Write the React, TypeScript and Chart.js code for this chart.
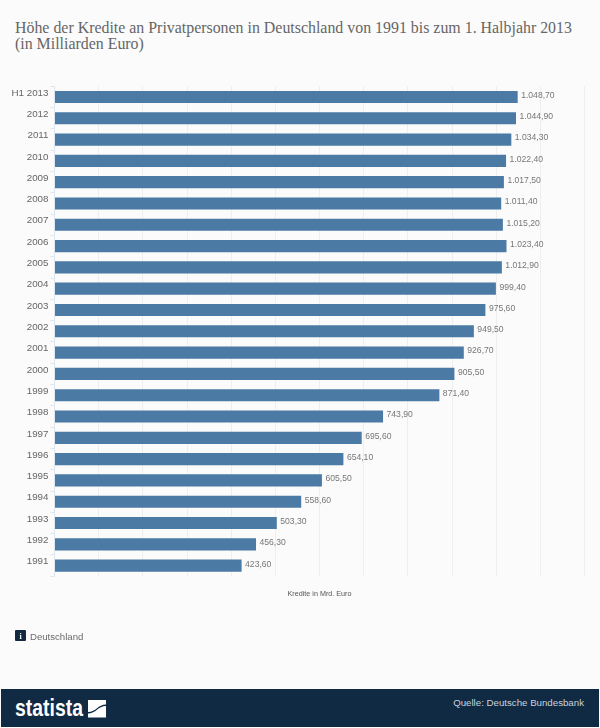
import React, { useEffect, useRef } from "react";
import { Chart, registerables } from "chart.js";

Chart.register(...registerables);

const categories = ["H1 2013","2012","2011","2010","2009","2008","2007","2006","2005","2004","2003","2002","2001","2000","1999","1998","1997","1996","1995","1994","1993","1992","1991"];
const credits = [1048.7,1044.9,1034.3,1022.4,1017.5,1011.4,1015.2,1023.4,1012.9,999.4,975.6,949.5,926.7,905.5,871.4,743.9,695.6,654.1,605.5,558.6,503.3,456.3,423.6];
const titleLines = ["Höhe der Kredite an Privatpersonen in Deutschland von 1991 bis zum 1. Halbjahr 2013", "(in Milliarden Euro)"];
const axisTitle = "Kredite in Mrd. Euro";
const regionLabel = "Deutschland";
const sourceLabel = "Quelle: Deutsche Bundesbank";

const SANS = '"Liberation Sans", Arial, sans-serif';

const valueLabels = {
  id: "valueLabels",
  afterDatasetsDraw(chart: any) {
    const ctx = chart.ctx;
    ctx.save();
    ctx.font = `8.6px ${SANS}`;
    ctx.fillStyle = "#777777";
    ctx.textAlign = "left";
    ctx.textBaseline = "middle";
    chart.getDatasetMeta(0).data.forEach((bar: any, i: number) => {
      const text = credits[i].toLocaleString("de-DE", { minimumFractionDigits: 2, maximumFractionDigits: 2 });
      ctx.fillText(text, bar.x + 3.5, bar.y - 1.5);
    });
    ctx.restore();
  },
};

export default function App() {
  const ref = useRef<HTMLCanvasElement>(null);
  useEffect(() => {
    document.body.style.margin = "0";
    document.body.style.background = "#fbfbfb";
    const chart = new Chart(ref.current!, {
      type: "bar",
      data: {
        labels: categories,
        datasets: [{
          data: credits,
          backgroundColor: "#4b7aa5",
          borderColor: "#4b7aa5",
          borderWidth: 0,
          barPercentage: 0.57,
          categoryPercentage: 1,
        }],
      },
      options: {
        indexAxis: "y",
        responsive: false,
        animation: false,
        layout: { padding: { left: 0, right: 15.5, top: 86.3, bottom: 130 } },
        plugins: { legend: { display: false }, tooltip: { enabled: false } },
        scales: {
          x: {
            min: 0,
            max: 1200,
            afterFit(scale: any) { scale.height = 21.7; },
            border: { display: false },
            grid: { color: "#eeeeee", lineWidth: 1, drawTicks: false },
            ticks: { display: false, stepSize: 100 },
            title: {
              display: true,
              text: axisTitle,
              color: "#555555",
              font: { family: SANS, size: 7.2, weight: "normal" },
              padding: { top: 0, bottom: 0 },
            },
          },
          y: {
            afterFit(scale: any) { scale.width = 54.5; },
            border: { display: true, color: "#dfe6ee", width: 1 },
            grid: { drawOnChartArea: false, tickLength: 4, color: "#dfe6ee", offset: true },
            ticks: {
              color: "#666666",
              font: { family: SANS, size: 9.8 },
              padding: 2,
              labelOffset: -4,
              autoSkip: false,
            },
          },
        },
      },
      plugins: [valueLabels],
    } as any);
    return () => chart.destroy();
  }, []);

  return (
    <div style={{ position: "relative", width: 600, height: 728, background: "#fbfbfb", overflow: "hidden" }}>
      <div style={{ position: "absolute", left: 15, top: 20, fontFamily: '"Liberation Serif", serif', fontSize: 15.9, lineHeight: "15.6px", color: "#666666", whiteSpace: "nowrap" }}>
        {titleLines.map((l) => <div key={l}>{l}</div>)}
      </div>
      <canvas ref={ref} width={600} height={728} style={{ position: "absolute", left: 0, top: 0 }} />
      <svg width={11} height={11} style={{ position: "absolute", left: 15, top: 630 }}>
        <rect width={11} height={11} rx={1} fill="#12293f" />
        <text x={5.5} y={8.5} textAnchor="middle" fontSize={8} fontWeight="bold" fontFamily="Liberation Serif" fill="#ffffff">i</text>
      </svg>
      <div style={{ position: "absolute", left: 30, top: 630, fontFamily: SANS, fontSize: 9.6, lineHeight: "13px", color: "#6b6b6b" }}>{regionLabel}</div>
      <div style={{ position: "absolute", left: 1, top: 689, width: 598, height: 38, background: "#112a43" }}>
        <svg width={110} height={38} style={{ position: "absolute", left: 0, top: 0 }}>
          <text x={14} y={27} textLength={68} lengthAdjust="spacingAndGlyphs" fontFamily={SANS} fontWeight="bold" fontSize={23} fill="#ffffff">statista</text>
          <path d="M87 11H105V15.5C97 15.5 95 23 87 23Z M105 28.5H87V24.5C95 24.5 97 17 105 17Z" fill="#ffffff" />
        </svg>
        <div style={{ position: "absolute", right: 15, top: 7, fontFamily: SANS, fontSize: 9.7, lineHeight: "14px", color: "#c9d2da", whiteSpace: "nowrap" }}>{sourceLabel}</div>
      </div>
    </div>
  );
}
